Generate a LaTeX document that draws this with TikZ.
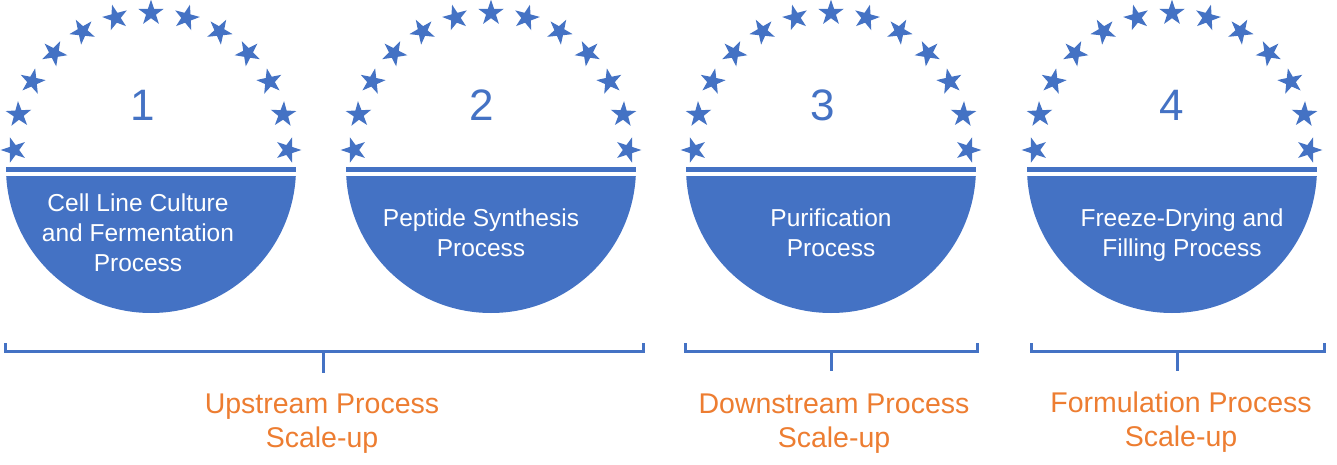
\documentclass[tikz,border=0pt]{standalone}
\usepackage{fontspec}
\setmainfont{Liberation Sans}
\definecolor{sblue}{HTML}{4472C4}
\definecolor{sorange}{HTML}{ED7D31}
\newcommand{\drawstar}[3]{%
  \fill[sblue] ({#1+13.4*cos(#3)},{#2-13.4*sin(#3)})
    \foreach \k in {1,...,9}{ -- ({#1+(9.3+4.1*cos(180*\k))*cos(#3+36*\k)},{#2-(9.3+4.1*cos(180*\k))*sin(#3+36*\k)}) } -- cycle;}
\begin{document}
\begin{tikzpicture}[x=1pt,y=-1pt,
  wtext/.style={text=white,align=center,inner sep=0pt,font=\fontsize{24.5}{30}\selectfont},
  numtext/.style={text=sblue,inner sep=0pt,font=\fontsize{44}{50}\selectfont},
  otext/.style={text=sorange,align=center,inner sep=0pt,font=\fontsize{28.5}{34}\selectfont},
  brk/.style={draw=sblue,line width=3pt}]
\useasboundingbox (0,0) rectangle (1337,465);
\fill[white] (0,0) rectangle (1337,465);
% units
\foreach \cx in {151,491,831,1172}{
  \fill[sblue] (\cx-145,167) rectangle (\cx+145,172);
  \begin{scope}
    \clip (\cx-150,176.5) rectangle (\cx+150,330);
    \fill[sblue] (\cx,168) circle (145);
  \end{scope}
  \foreach \a in {0,15,...,180}{
    \drawstar{\cx+137*cos(\a)}{150-137*sin(\a)}{\a}
  }
}
% numbers
\node[numtext] (n1) at (143,105) {1};
\node[numtext] (n2) at (482,105) {2};
\node[numtext] (n3) at (823,105) {3};
\node[numtext] (n4) at (1172,105) {4};
% white labels
\node[wtext] (t1) at (138,233) {Cell Line Culture\\and Fermentation\\Process};
\node[wtext] (t2) at (481,233) {Peptide Synthesis\\Process};
\node[wtext] (t3) at (831,233) {Purification\\Process};
\node[wtext] (t4) at (1182,235) {Freeze-Drying and\\Filling Process};
% brackets
\coordinate (b1a) at (5,343);   \coordinate (b1b) at (5,351.5);
\coordinate (b1c) at (643,351.5); \coordinate (b1d) at (643,343);
\coordinate (b1m) at (323,351.5); \coordinate (b1t) at (323,373);
\coordinate (b2a) at (685,343);   \coordinate (b2b) at (685,351.5);
\coordinate (b2c) at (977,351.5); \coordinate (b2d) at (977,343);
\coordinate (b2m) at (831,351.5); \coordinate (b2t) at (831,371);
\coordinate (b3a) at (1031,343);  \coordinate (b3b) at (1031,351.5);
\coordinate (b3c) at (1324,351.5); \coordinate (b3d) at (1324,343);
\coordinate (b3m) at (1177,351.5); \coordinate (b3t) at (1177,371);
\draw[brk] (b1a) -- (b1b) -- (b1c) -- (b1d);
\draw[brk] (b1m) -- (b1t);
\draw[brk] (b2a) -- (b2b) -- (b2c) -- (b2d);
\draw[brk] (b2m) -- (b2t);
\draw[brk] (b3a) -- (b3b) -- (b3c) -- (b3d);
\draw[brk] (b3m) -- (b3t);
% orange labels
\node[otext] (o1) at (322,424) {Upstream Process\\Scale-up};
\node[otext] (o2) at (834,424) {Downstream Process\\Scale-up};
\node[otext] (o3) at (1181,422.5) {Formulation Process\\Scale-up};
\end{tikzpicture}
\end{document}
